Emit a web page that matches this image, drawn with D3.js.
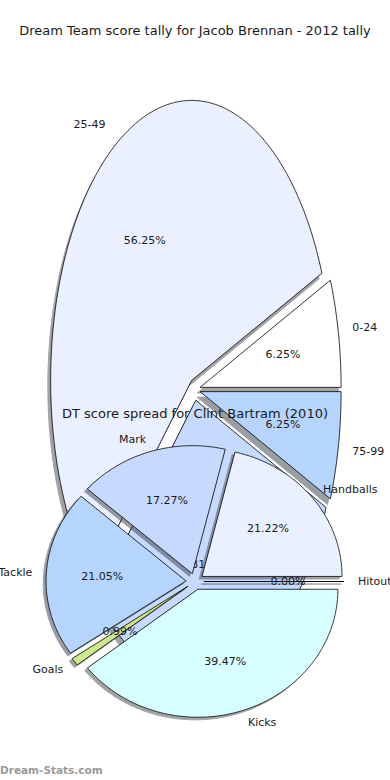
<!DOCTYPE html>
<html lang="en">
<head>
    <meta charset="UTF-8">
    <title>Dream Team score tally</title>
    <script src="https://d3js.org/d3.v7.min.js"></script>
    <style>
        body {
            margin: 0;
            padding: 0;
            background-color: #fff;
            font-family: "DejaVu Sans", sans-serif;
        }
        svg text {
            fill: #1a1a1a;
        }
    </style>
</head>
<body>
    <svg id="chart" width="390" height="780"></svg>

    <script>
        // first chart: score bands
        const bandTitle = "Dream Team score tally for Jacob Brennan - 2012 tally";
        const bandNames = ["0-24", "25-49", "50-74", "75-99"];
        const bandShares = [6.25, 56.25, 31.25, 6.25];

        // second chart: score spread
        const spreadTitle = "DT score spread for Clint Bartram (2010)";
        const statNames = ["Hitout", "Handballs", "Mark", "Tackle", "Goals", "Kicks"];
        const statShares = [0.00, 21.22, 17.27, 21.05, 0.99, 39.47];

        const sliceColors = ["#ffffff", "#eaf0ff", "#c6d9ff", "#b5d5ff", "#cde88c", "#d8ffff"];

        const svg = d3.select("#chart");

        // draws one exploded pie, matplotlib style (counter-clockwise from 3 o'clock)
        function drawPie(opts) {
            const x = d3.scaleLinear().domain([-1, 1]).range([opts.cx - opts.rx, opts.cx + opts.rx]);
            const y = d3.scaleLinear().domain([-1, 1]).range([opts.cy + opts.ry, opts.cy - opts.ry]);

            const pie = d3.pie().sort(null).startAngle(0).endAngle(2 * Math.PI);
            const arcs = pie(opts.values).map((a, i) => {
                const mid = (a.startAngle + a.endAngle) / 2;
                return {
                    ...a, i, mid,
                    name: opts.names[i],
                    pct: opts.values[i],
                    ox: opts.explode * Math.cos(mid),
                    oy: opts.explode * Math.sin(mid)
                };
            });

            const line = d3.line().x(d => x(d[0])).y(d => y(d[1]));

            function wedge(d, dx, dy) {
                const pts = [[d.ox + dx, d.oy + dy]];
                const n = Math.max(2, Math.ceil((d.endAngle - d.startAngle) / 0.01));
                for (let k = 0; k <= n; k++) {
                    const t = d.startAngle + (d.endAngle - d.startAngle) * k / n;
                    pts.push([d.ox + dx + Math.cos(t), d.oy + dy + Math.sin(t)]);
                }
                return line(pts) + "Z";
            }

            const g = svg.append("g");

            // shadows sit under every wedge of the same pie
            g.append("g")
                .selectAll("path")
                .data(arcs)
                .join("path")
                .attr("d", d => wedge(d, -0.02, -0.02))
                .attr("fill", d => {
                    const c = d3.rgb(sliceColors[d.i]);
                    return d3.rgb(c.r * 0.3, c.g * 0.3, c.b * 0.3);
                })
                .attr("stroke", d => {
                    const c = d3.rgb(sliceColors[d.i]);
                    return d3.rgb(c.r * 0.3, c.g * 0.3, c.b * 0.3);
                })
                .attr("stroke-width", 1)
                .attr("opacity", 0.5);

            g.append("g")
                .selectAll("path")
                .data(arcs)
                .join("path")
                .attr("d", d => wedge(d, 0, 0))
                .attr("fill", d => sliceColors[d.i])
                .attr("stroke", "#000")
                .attr("stroke-width", 0.8)
                .attr("stroke-linejoin", "miter");

            // slice names
            g.append("g")
                .selectAll("text")
                .data(arcs)
                .join("text")
                .attr("x", d => x(d.ox + opts.labelDist * Math.cos(d.mid)))
                .attr("y", d => y(d.oy + opts.labelDist * Math.sin(d.mid)))
                .attr("text-anchor", d => Math.cos(d.mid) > 0 ? "start" : "end")
                .attr("dominant-baseline", "central")
                .style("font-size", "11px")
                .text(d => d.name);

            // percentages
            g.append("g")
                .selectAll("text")
                .data(arcs)
                .join("text")
                .attr("x", d => x(d.ox + opts.pctDist * Math.cos(d.mid)))
                .attr("y", d => y(d.oy + opts.pctDist * Math.sin(d.mid)))
                .attr("text-anchor", "middle")
                .attr("dominant-baseline", "central")
                .style("font-size", "11px")
                .text(d => d.pct.toFixed(2) + "%");

            g.append("text")
                .attr("x", opts.titleX)
                .attr("y", opts.titleY)
                .attr("text-anchor", "middle")
                .attr("dominant-baseline", "central")
                .style("font-size", "13px")
                .text(opts.title);
        }

        drawPie({
            names: bandNames, values: bandShares, title: bandTitle,
            cx: 194.7, cy: 389.5, rx: 141, ry: 280, explode: 0.039,
            labelDist: 1.1, pctDist: 0.6, titleX: 195, titleY: 30
        });

        drawPie({
            names: statNames, values: statShares, title: spreadTitle,
            cx: 195, cy: 581.5, rx: 140, ry: 128, explode: 0.064,
            labelDist: 1.1, pctDist: 0.6, titleX: 195, titleY: 413
        });

        svg.append("text")
            .attr("x", 0)
            .attr("y", 774)
            .style("font-size", "10.5px")
            .style("font-weight", "bold")
            .style("fill", "#9a9a9a")
            .text("Dream-Stats.com");
    </script>
</body>
</html>
